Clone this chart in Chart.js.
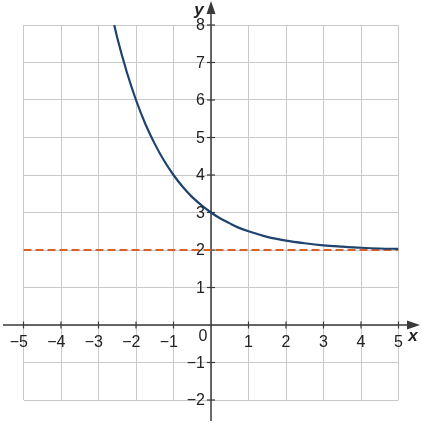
<!DOCTYPE html>
<html>
<head>
<meta charset="utf-8">
<script src="https://cdn.jsdelivr.net/npm/chart.js@4.4.1/dist/chart.umd.min.js"></script>
<style>
  html, body { margin: 0; padding: 0; background: #fff; }
  #wrap { width: 422px; height: 422px; }
</style>
</head>
<body>
<div id="wrap"><canvas id="graph" width="422" height="422"></canvas></div>
<script>
// curve points
const curveX = [-2.58, -2.5, -2.25, -2, -1.75, -1.5, -1.25, -1, -0.75, -0.5, -0.25, 0,
  0.25, 0.5, 0.75, 1, 1.5, 2, 2.5, 3, 3.5, 4, 4.5, 5];
const curveY = [8.0, 7.66, 6.76, 6.0, 5.36, 4.83, 4.38, 4.0, 3.68, 3.41, 3.19, 3.0,
  2.84, 2.71, 2.59, 2.5, 2.35, 2.25, 2.18, 2.125, 2.09, 2.06, 2.04, 2.03];

// horizontal asymptote
const asymX = [-5, 5];
const asymY = [2, 2];

const xTicks = [-5, -4, -3, -2, -1, 1, 2, 3, 4, 5];
const yTicks = [-2, -1, 1, 2, 3, 4, 5, 6, 7, 8];

const FONT = '"Liberation Sans", Arial, sans-serif';

function lbl(v) {
  return v < 0 ? '\u2212' + Math.abs(v) : String(v);
}

// axes through the origin, arrows, ticks and labels
const axesPlugin = {
  id: 'axes',
  beforeDatasetsDraw(chart) {
    const ctx = chart.ctx;
    const xs = chart.scales.x, ys = chart.scales.y;
    const ox = xs.getPixelForValue(0), oy = ys.getPixelForValue(0);
    ctx.save();
    ctx.strokeStyle = '#3a3a3a';
    ctx.fillStyle = '#3a3a3a';
    ctx.lineWidth = 1.5;
    // x axis
    ctx.beginPath();
    ctx.moveTo(3, oy);
    ctx.lineTo(410, oy);
    ctx.stroke();
    ctx.beginPath();
    ctx.moveTo(420, oy);
    ctx.lineTo(407, oy - 4.5);
    ctx.lineTo(407, oy + 4.5);
    ctx.closePath();
    ctx.fill();
    // y axis
    ctx.beginPath();
    ctx.moveTo(ox, 421);
    ctx.lineTo(ox, 12);
    ctx.stroke();
    ctx.beginPath();
    ctx.moveTo(ox, 1);
    ctx.lineTo(ox - 4.5, 14);
    ctx.lineTo(ox + 4.5, 14);
    ctx.closePath();
    ctx.fill();
    // ticks
    ctx.lineWidth = 1.2;
    xTicks.forEach(v => {
      const px = xs.getPixelForValue(v);
      ctx.beginPath();
      ctx.moveTo(px, oy - 3.5);
      ctx.lineTo(px, oy + 3.5);
      ctx.stroke();
    });
    yTicks.forEach(v => {
      const py = ys.getPixelForValue(v);
      ctx.beginPath();
      ctx.moveTo(ox - 4, py);
      ctx.lineTo(ox + 4, py);
      ctx.stroke();
    });
    ctx.restore();
  },
  afterDatasetsDraw(chart) {
    const ctx = chart.ctx;
    const xs = chart.scales.x, ys = chart.scales.y;
    const ox = xs.getPixelForValue(0), oy = ys.getPixelForValue(0);
    ctx.save();
    ctx.fillStyle = '#222';
    ctx.font = '16px ' + FONT;
    ctx.textBaseline = 'middle';
    // x labels, digit centred on the tick
    ctx.textAlign = 'right';
    xTicks.forEach(v => {
      const px = xs.getPixelForValue(v);
      const dw = ctx.measureText(String(Math.abs(v))).width;
      ctx.fillText(lbl(v), px + dw / 2, oy + 18);
    });
    // y labels
    yTicks.forEach(v => {
      ctx.fillText(lbl(v), ox - 6, ys.getPixelForValue(v) + 1);
    });
    ctx.textAlign = 'center';
    ctx.fillText('0', ox - 8, oy + 12);
    // axis names
    ctx.font = 'italic bold 17px ' + FONT;
    ctx.fillText('x', 413, oy + 11);
    ctx.fillText('y', ox - 12, 10);
    ctx.restore();
  }
};

new Chart(document.getElementById('graph'), {
  type: 'scatter',
  data: {
    datasets: [
      {
        label: 'y = 2',
        data: asymX.map((x, i) => ({ x, y: asymY[i] })),
        showLine: true,
        borderColor: '#d9622b',
        borderWidth: 2,
        borderDash: [8, 4],
        pointRadius: 0,
        order: 2
      },
      {
        label: 'curve',
        data: curveX.map((x, i) => ({ x, y: curveY[i] })),
        showLine: true,
        borderColor: '#1d436e',
        borderWidth: 2.2,
        cubicInterpolationMode: 'monotone',
        pointRadius: 0,
        order: 1
      }
    ]
  },
  options: {
    responsive: false,
    animation: false,
    events: [],
    layout: { padding: { left: 23.5, right: 23.5, top: 25, bottom: 22 } },
    plugins: { legend: { display: false }, tooltip: { enabled: false } },
    scales: {
      x: {
        type: 'linear', min: -5, max: 5,
        ticks: { display: false, stepSize: 1 },
        grid: { color: '#c9c9c9', lineWidth: 1, drawTicks: false },
        border: { display: false }
      },
      y: {
        type: 'linear', min: -2, max: 8,
        ticks: { display: false, stepSize: 1 },
        grid: { color: '#c9c9c9', lineWidth: 1, drawTicks: false },
        border: { display: false }
      }
    }
  },
  plugins: [axesPlugin]
});
</script>
</body>
</html>
